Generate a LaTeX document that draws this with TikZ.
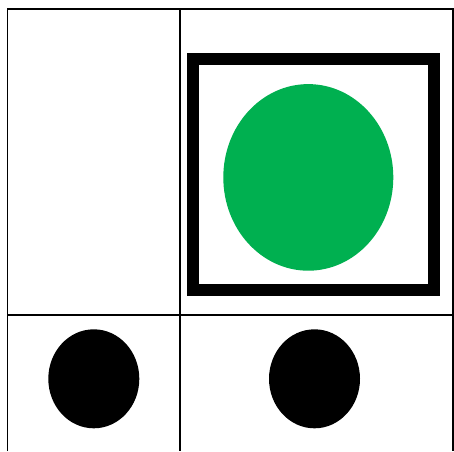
\documentclass[tikz,border=0pt]{standalone}
\definecolor{okgreen}{HTML}{00B050}
\begin{document}
\begin{tikzpicture}[x=1pt,y=-1pt,
  gridline/.style={draw=black,line width=1.8pt},
  frame/.style={draw=black,line width=12pt},
  dot/.style={fill=black}]
\useasboundingbox (0,0) rectangle (454,451);
\fill[white] (0,0) rectangle (454,451);
% grid
\draw[gridline] (7.5,451) -- (7.5,9) -- (453,9) -- (453,451);
\draw[gridline] (180,9) -- (180,451);
\draw[gridline] (7.5,315) -- (453,315);
% framed green ellipse
\draw[frame] (192.7,59.3) rectangle (433.5,290);
\fill[okgreen] (308.3,177.4) ellipse [x radius=85, y radius=93.3];
% black dots
\fill[dot] (93.8,378.8) ellipse [x radius=45.5, y radius=49.5];
\fill[dot] (314.5,378.8) ellipse [x radius=45.5, y radius=49.5];
\end{tikzpicture}
\end{document}
